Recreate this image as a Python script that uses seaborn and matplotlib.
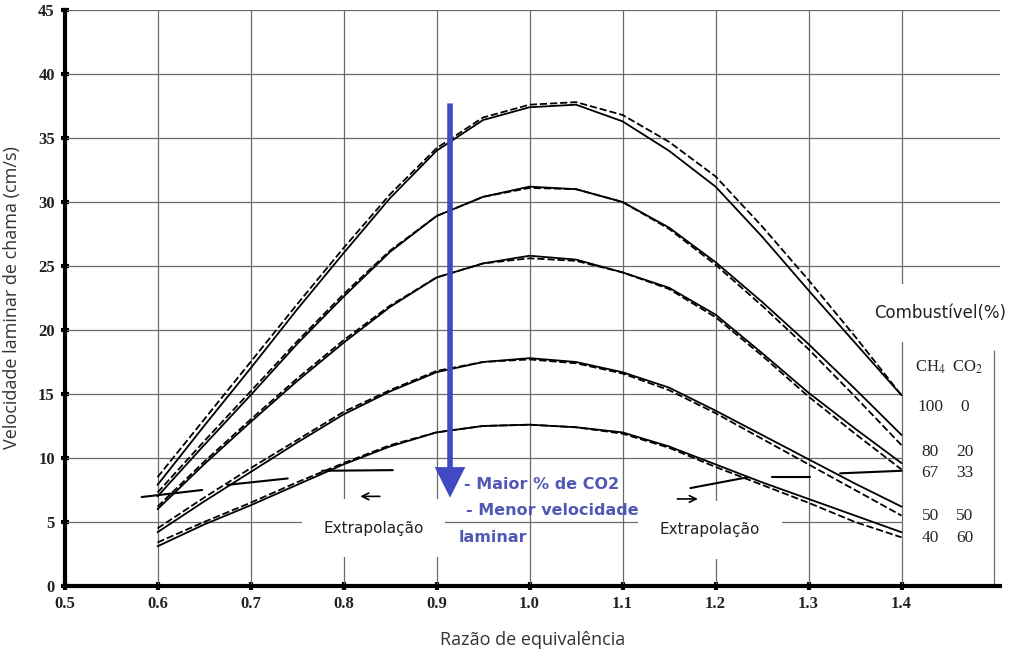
import matplotlib
matplotlib.use("Agg")
import matplotlib.pyplot as plt
import numpy as np
import pandas as pd
import seaborn as sns

# equivalence ratio grid
phi = [0.60, 0.65, 0.70, 0.75, 0.80, 0.85, 0.90, 0.95, 1.00,
       1.05, 1.10, 1.15, 1.20, 1.25, 1.30, 1.35, 1.40]

# laminar flame speed (cm/s), solid = measured, dashed = model
s_100_0 = [7.9, 12.5, 17.0, 21.6, 26.0, 30.3, 34.0, 36.4, 37.4, 37.6, 36.3, 34.0, 31.2, 27.3, 23.1, 19.0, 14.9]
d_100_0 = [8.5, 13.0, 17.5, 22.0, 26.4, 30.6, 34.2, 36.6, 37.6, 37.8, 36.8, 34.7, 32.0, 28.1, 23.9, 19.5, 14.9]
s_80_20 = [7.0, 11.0, 14.9, 18.9, 22.6, 26.1, 28.9, 30.4, 31.2, 31.0, 30.0, 28.0, 25.3, 22.2, 18.9, 15.4, 11.8]
d_80_20 = [7.3, 11.3, 15.2, 19.1, 22.8, 26.2, 28.9, 30.4, 31.1, 31.0, 30.0, 27.9, 25.1, 21.9, 18.5, 14.8, 11.0]
s_67_33 = [6.0, 9.5, 12.8, 16.0, 19.0, 21.8, 24.1, 25.2, 25.8, 25.5, 24.5, 23.3, 21.2, 18.2, 15.1, 12.3, 9.6]
d_67_33 = [6.2, 9.7, 13.0, 16.2, 19.2, 21.9, 24.1, 25.2, 25.6, 25.4, 24.5, 23.2, 21.0, 18.0, 14.8, 11.9, 9.1]
s_50_50 = [4.2, 6.6, 8.9, 11.2, 13.4, 15.2, 16.7, 17.5, 17.8, 17.5, 16.7, 15.5, 13.7, 11.8, 9.9, 8.0, 6.2]
d_50_50 = [4.5, 6.9, 9.2, 11.4, 13.6, 15.3, 16.8, 17.5, 17.7, 17.4, 16.6, 15.3, 13.5, 11.5, 9.5, 7.5, 5.5]
s_40_60 = [3.1, 4.8, 6.3, 7.9, 9.5, 10.9, 12.0, 12.5, 12.6, 12.4, 12.0, 10.9, 9.5, 8.1, 6.8, 5.5, 4.2]
d_40_60 = [3.4, 5.0, 6.5, 8.1, 9.6, 11.0, 12.0, 12.5, 12.6, 12.4, 11.9, 10.8, 9.3, 7.9, 6.5, 5.0, 3.8]

ch4_pct = ["100", "80", "67", "50", "40"]
co2_pct = ["0", "20", "33", "50", "60"]

# hand-drawn extrapolation strokes (phi pairs, speed pairs)
extrap_phi = [(0.583, 0.648), (0.675, 0.740), (0.777, 0.853),
              (1.173, 1.235), (1.261, 1.302), (1.334, 1.400)]
extrap_speed = [(6.95, 7.5), (7.9, 8.4), (9.0, 9.05),
                (7.65, 8.5), (8.5, 8.5), (8.8, 9.0)]

x_ticks = [0.5, 0.6, 0.7, 0.8, 0.9, 1.0, 1.1, 1.2, 1.3, 1.4]
y_ticks = [0, 5, 10, 15, 20, 25, 30, 35, 40, 45]

sns.set_theme(style="white")
plt.rcParams["font.family"] = ["DejaVu Sans"]
plt.rcParams["mathtext.fontset"] = "stix"

series = [
    ("100/0", "solid", s_100_0), ("100/0", "dashed", d_100_0),
    ("80/20", "solid", s_80_20), ("80/20", "dashed", d_80_20),
    ("67/33", "solid", s_67_33), ("67/33", "dashed", d_67_33),
    ("50/50", "solid", s_50_50), ("50/50", "dashed", d_50_50),
    ("40/60", "solid", s_40_60), ("40/60", "dashed", d_40_60),
]
rows = []
for mix, kind, vals in series:
    for p, v in zip(phi, vals):
        rows.append({"phi": p, "speed": v, "mix": mix, "kind": kind})
df = pd.DataFrame(rows)

fig = plt.figure(figsize=(10.15, 6.61), dpi=100)
ax = fig.add_axes([0.0636, 0.1135, 0.9217, 0.8714])
ax.set_xlim(0.5, 1.506)
ax.set_ylim(0, 45)

# grid drawn by hand: right of 1.4 the lower rows hold the legend table
grid_kw = dict(color="#6a6a6a", lw=0.9, zorder=1)
for y in y_ticks[1:]:
    ax.hlines(y, 0.5, 1.4 if y <= 15 else 1.506, **grid_kw)
for x in x_ticks[1:]:
    ax.vlines(x, 0, 45, **grid_kw)
ax.vlines(1.5, 0, 18.4, **grid_kw)

for (mix, kind), sub in df.groupby(["mix", "kind"]):
    sns.lineplot(data=sub, x="phi", y="speed", ax=ax, color="black",
                 lw=1.3, estimator=None, sort=False, legend=False, zorder=3,
                 linestyle="-" if kind == "solid" else (0, (4, 1.6)))

for xs, ys in zip(extrap_phi, extrap_speed):
    ax.plot(xs, ys, color="black", lw=1.5, zorder=4)

arrow_kw = dict(arrowstyle="->", color="black", lw=1.2)
ax.annotate("", xy=(0.815, 7.0), xytext=(0.842, 7.0), arrowprops=arrow_kw, zorder=5)
ax.annotate("", xy=(1.184, 6.8), xytext=(1.156, 6.8), arrowprops=arrow_kw, zorder=5)

box = dict(boxstyle="square,pad=1.4", fc="white", ec="none")
ax.text(0.832, 4.5, "Extrapolação", ha="center", va="center", fontsize=11,
        color="#222222", bbox=box, zorder=2.5)
ax.text(1.194, 4.4, "Extrapolação", ha="center", va="center", fontsize=11,
        color="#222222", bbox=box, zorder=2.5)

# blue trend arrow and note
ax.annotate("", xy=(0.9145, 6.9), xytext=(0.9145, 37.7),
            arrowprops=dict(width=4, headwidth=22, headlength=22,
                            color="#4149c4", lw=0), zorder=6)
blue = "#5158b3"
ax.text(0.930, 7.9, "- Maior % de CO2", fontsize=11.5, fontweight="bold",
        color=blue, va="center", zorder=6)
ax.text(0.932, 5.9, "- Menor velocidade", fontsize=11.5, fontweight="bold",
        color=blue, va="center", zorder=6)
ax.text(0.924, 3.75, "laminar", fontsize=11.5, fontweight="bold",
        color=blue, va="center", zorder=6)

# legend table on the right
ax.text(1.441, 21.3, "Combustível(%)", ha="center", va="center", fontsize=12,
        color="#222222", clip_on=False, zorder=2.5,
        bbox=dict(boxstyle="square,pad=1.2", fc="white", ec="none"))
serif = ["Liberation Serif", "DejaVu Serif"]
ax.text(1.431, 17.1, r"CH$_4$", ha="center", va="center", fontsize=12,
        family=serif, zorder=5)
ax.text(1.471, 17.1, r"CO$_2$", ha="center", va="center", fontsize=12,
        family=serif, zorder=5)
for ch4, co2, y in zip(ch4_pct, co2_pct, [14.0, 10.5, 8.8, 5.5, 3.75]):
    ax.text(1.431, y, ch4, ha="center", va="center", fontsize=12.5,
            family=serif, zorder=5)
    ax.text(1.468, y, co2, ha="center", va="center", fontsize=12.5,
            family=serif, zorder=5)

ax.set_xticks(x_ticks)
ax.set_xticklabels([f"{v:.1f}" for v in x_ticks])
ax.set_yticks(y_ticks)
ax.set_yticklabels([str(v) for v in y_ticks])
for lab in ax.get_xticklabels() + ax.get_yticklabels():
    lab.set_family(serif)
    lab.set_fontweight("bold")
    lab.set_fontsize(12)
    lab.set_color("#222222")
ax.tick_params(axis="both", direction="inout", length=6, width=3,
               color="black", pad=4, bottom=True, left=True)

for side in ["top", "right"]:
    ax.spines[side].set_visible(False)
for side in ["left", "bottom"]:
    ax.spines[side].set_linewidth(3)
    ax.spines[side].set_color("black")

ax.set_xlabel("Razão de equivalência", fontsize=13, color="#333333",
              family=["Open Sans", "DejaVu Sans"], labelpad=14)
ax.set_ylabel("Velocidade laminar de chama (cm/s)", fontsize=13,
              color="#333333", family=["Open Sans", "DejaVu Sans"], labelpad=12)

fig.savefig("out.png", dpi=100)
plt.close(fig)
